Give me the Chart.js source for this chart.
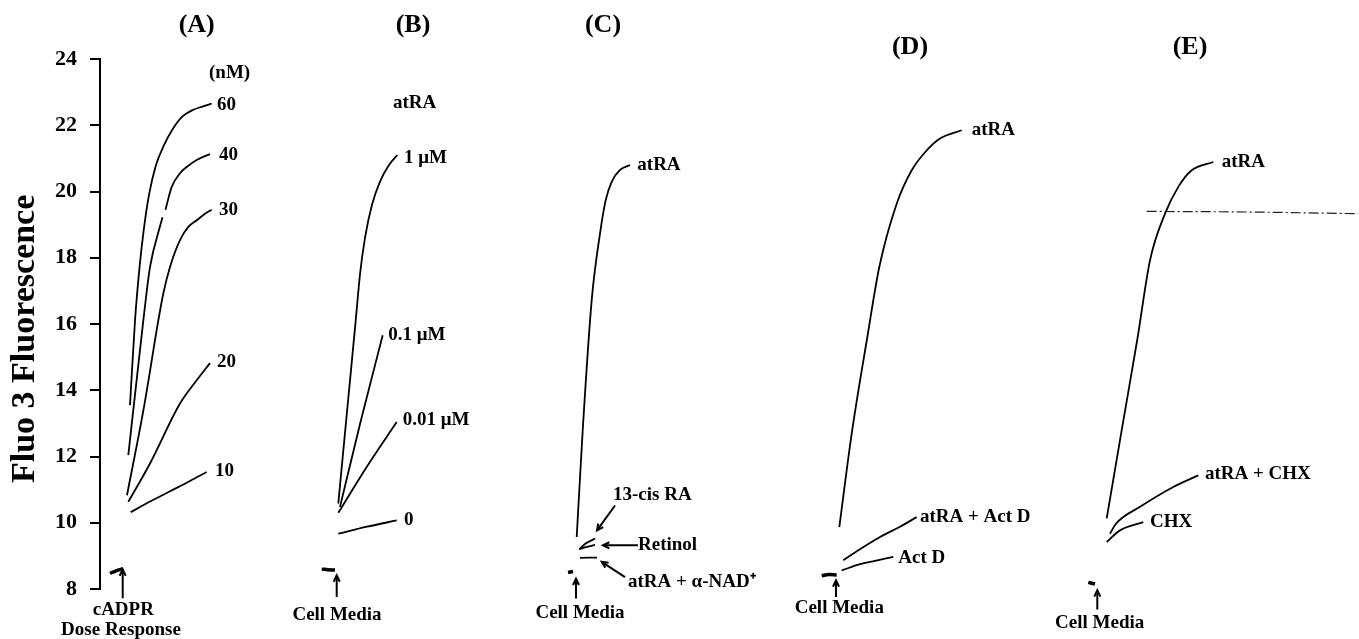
<!DOCTYPE html>
<html><head><meta charset="utf-8">
<script src="https://cdn.jsdelivr.net/npm/chart.js@4.4.1/dist/chart.umd.min.js"></script>
<style>html,body{margin:0;padding:0;background:#fff}#wrap{width:1359px;height:639px;position:relative}</style>
</head><body><div id="wrap"><canvas id="c"></canvas></div>
<script>
// ---------- tick labels / panel titles ----------
const yTicks = [8, 10, 12, 14, 16, 18, 20, 22, 24];
const panelTitles = ['(A)', '(B)', '(C)', '(D)', '(E)'];
const yTitle = 'Fluo 3 Fluorescence';

// ---------- series: [time, fluorescence] ----------
// (A) cADPR dose response
const aBase = [[10, 8.47], [16, 8.55], [23, 8.61]];
const a10 = [[30.7, 10.32], [50, 10.64], [70, 10.95], [90, 11.26], [106.7, 11.53]];
const a20 = [[28.3, 10.63], [50, 11.79], [80, 13.6], [96.7, 14.3], [110, 14.82]];
const a30 = [[27, 10.83], [44, 13.5], [58.3, 16.1], [63.3, 16.92], [70, 17.72], [80, 18.53], [88.3, 18.93], [96.7, 19.13], [105, 19.33], [111.7, 19.45]];
const a40 = [[28.3, 12.04], [43.3, 16.1], [50, 17.72], [60, 18.95], [62.5, 19.22], [64, null], [65.5, 19.45], [71.7, 20.14], [80, 20.55], [86.7, 20.74], [96.7, 20.95], [110, 21.13]];
const a60 = [[30, 13.55], [35, 16.1], [39.5, 17.7], [44, 18.9], [49, 19.9], [56, 20.8], [64, 21.4], [72, 21.85], [82, 22.25], [92, 22.45], [103, 22.57], [111.7, 22.65]];
// (B) atRA doses
const bBase = [[221.7, 8.6], [228, 8.58], [235, 8.57]];
const b1uM = [[238.3, 10.58], [247, 13.35], [255.7, 16.1], [260, 17.5], [265, 18.6], [272, 19.6], [280, 20.3], [289, 20.8], [297.3, 21.1]];
const b01uM = [[240, 10.48], [261, 13.1], [282.7, 15.66]];
const b001uM = [[238.3, 10.3], [267, 11.7], [296.7, 13.04]];
const b0 = [[238.3, 9.67], [267, 9.88], [296.7, 10.07]];
// (C) retinoids
const cBase = [[468, 8.5], [473, 8.53]];
const cAtRA = [[476.7, 9.57], [482.7, 12.79], [491.7, 16.72], [500, 18.73], [505.7, 19.74], [511.7, 20.29], [520, 20.65], [530, 20.8]];
const c13cis = [[479.3, 9.2], [486, 9.38], [495, 9.52]];
const cRetinol = [[479.3, 9.2], [487, 9.27], [495, 9.33]];
const cNAD = [[480, 8.94], [497, 8.95]];
// (D) actinomycin D
const dBase = [[721.7, 8.4], [729, 8.44], [736.7, 8.42]];
const dAtRA = [[739.3, 9.87], [751.7, 12.69], [767.3, 15.6], [779.3, 17.72], [796.7, 19.63], [811.7, 20.64], [826.7, 21.24], [840, 21.6], [861.7, 21.85]];
const dAtRAActD = [[743.3, 8.87], [760, 9.2], [780, 9.57], [800, 9.88], [816.7, 10.17]];
const dActD = [[741.7, 8.56], [760, 8.75], [775, 8.85], [793.3, 8.97]];
// (E) cycloheximide
const eBase = [[988.3, 8.2], [995, 8.15]];
const eAtRA = [[1006.7, 10.13], [1022, 12.85], [1037.5, 15.57], [1050, 17.92], [1065, 19.33], [1078.3, 20.14], [1091.7, 20.64], [1113.3, 20.89]];
const eDashed = [[1046.7, 19.4], [1150, 19.38], [1258, 19.33]];
const eAtRACHX = [[1010, 9.67], [1016, 9.97], [1040, 10.48], [1073.3, 11.08], [1098.3, 11.43]];
const eCHX = [[1006.7, 9.42], [1020, 9.77], [1043.3, 10.02]];

// ---------- annotation layout (data space) ----------
const FONT = '"Liberation Serif", "Times New Roman", serif';
const titlePos = [[96.7, 25.02], [313, 25.02], [503, 25.02], [810, 24.35], [1090, 24.35]];
const yTitlePos = [-75, 15.55];
const labels = [
  ['(nM)', 109, 23.58, 'left'], ['60', 117, 22.6, 'left'], ['40', 119, 21.1, 'left'], ['30', 119, 19.45, 'left'],
  ['20', 117, 14.85, 'left'], ['10', 115, 11.56, 'left'],
  ['cADPR', 23.3, 7.36, 'center'], ['Dose Response', 21, 6.75, 'center'],
  ['atRA', 293, 22.66, 'left'], ['1 \u03bcM', 304, 21.0, 'left'], ['0.1 \u03bcM', 288.3, 15.66, 'left'],
  ['0.01 \u03bcM', 302.7, 13.1, 'left'], ['0', 304, 10.07, 'left'], ['Cell Media', 237, 7.21, 'center'],
  ['atRA', 537.3, 20.79, 'left'], ['13-cis RA', 513, 10.83, 'left'], ['Retinol', 538, 9.32, 'left'],
  ['atRA + \u03b1-NAD\u207a', 528, 8.2, 'left'], ['Cell Media', 480, 7.26, 'center'],
  ['atRA', 871.7, 21.85, 'left'], ['atRA + Act D', 820, 10.17, 'left'], ['Act D', 798.3, 8.93, 'left'],
  ['Cell Media', 739.3, 7.41, 'center'],
  ['atRA', 1121.7, 20.89, 'left'], ['atRA + CHX', 1105, 11.48, 'left'], ['CHX', 1050, 10.02, 'left'],
  ['Cell Media', 999.7, 6.97, 'center']
];
// arrows: [tailX, tailY, headX, headY]
const arrows = [
  [22.7, 7.72, 22.7, 8.59], [236.7, 7.76, 236.7, 8.41], [476, 7.71, 476, 8.31],
  [736, 7.76, 736, 8.26], [997.3, 7.38, 997.3, 7.96],
  [515, 10.52, 497, 9.77], [538, 9.32, 503, 9.32], [525, 8.36, 501.7, 8.82]
];

const annot = {
  id: 'annot',
  afterDatasetsDraw(chart) {
    const ctx = chart.ctx, xs = chart.scales.x, ys = chart.scales.y;
    const P = (x, y) => [xs.getPixelForValue(x), ys.getPixelForValue(y)];
    ctx.save();
    ctx.fillStyle = '#000'; ctx.strokeStyle = '#000';
    ctx.textBaseline = 'middle';
    // y axis title
    const tp = P(yTitlePos[0], yTitlePos[1]);
    ctx.save();
    ctx.translate(tp[0], tp[1]); ctx.rotate(-Math.PI / 2);
    ctx.font = 'bold 34px ' + FONT; ctx.textAlign = 'center';
    ctx.fillText(yTitle, 0, 0);
    ctx.restore();
    ctx.font = 'bold 26px ' + FONT; ctx.textAlign = 'center';
    panelTitles.forEach((t, i) => { const p = P(titlePos[i][0], titlePos[i][1]); ctx.fillText(t, p[0], p[1]); });
    ctx.font = 'bold 19px ' + FONT;
    labels.forEach(l => { const p = P(l[1], l[2]); ctx.textAlign = l[3]; ctx.fillText(l[0], p[0], p[1]); });
    ctx.lineWidth = 2;
    arrows.forEach(a => {
      const t = P(a[0], a[1]), h = P(a[2], a[3]);
      const ang = Math.atan2(h[1] - t[1], h[0] - t[0]);
      ctx.beginPath(); ctx.moveTo(t[0], t[1]); ctx.lineTo(h[0], h[1]); ctx.stroke();
      const s = 7;
      ctx.beginPath();
      ctx.moveTo(h[0] - s * Math.cos(ang - 0.45), h[1] - s * Math.sin(ang - 0.45));
      ctx.lineTo(h[0], h[1]);
      ctx.lineTo(h[0] - s * Math.cos(ang + 0.45), h[1] - s * Math.sin(ang + 0.45));
      ctx.stroke();
    });
    ctx.restore();
  }
};

const toXY = arr => arr.map(p => ({ x: p[0], y: p[1] }));
const line = (arr, w) => ({
  data: toXY(arr), borderColor: '#000', borderWidth: w || 1.8, pointRadius: 0,
  cubicInterpolationMode: 'monotone', fill: false, spanGaps: false
});
const thick = [aBase, bBase, cBase, dBase, eBase];
const thin = [a10, a20, a30, a40, a60, b1uM, b01uM, b001uM, b0, cAtRA, c13cis, cRetinol, cNAD,
  dAtRA, dAtRAActD, dActD, eAtRA, eAtRACHX, eCHX];
const datasets = thin.map(s => line(s, 1.8)).concat(thick.map(s => line(s, 3.5)));
const dash = line(eDashed, 1.2); dash.borderDash = [10, 3, 2, 3]; dash.borderColor = '#222';
datasets.push(dash);

new Chart(document.getElementById('c'), {
  type: 'line',
  data: { datasets },
  options: {
    responsive: true, maintainAspectRatio: false, animation: false,
    layout: { padding: { top: 59, bottom: 50, left: 0, right: 0 } },
    plugins: { legend: { display: false }, tooltip: { enabled: false } },
    scales: {
      x: { type: 'linear', min: 0, max: 1259, display: false },
      y: {
        min: 8, max: 24,
        afterFit: s => { s.width = 100; },
        afterBuildTicks: s => { s.ticks = yTicks.map(v => ({ value: v })); },
        ticks: { color: '#000', padding: 13, font: { family: FONT, size: 22, weight: 'bold' } },
        grid: { drawOnChartArea: false, drawTicks: true, tickLength: 10, color: '#000', lineWidth: 2 },
        border: { display: true, color: '#000', width: 2 },
        title: { display: false }
      }
    }
  },
  plugins: [annot]
});
</script></body></html>
